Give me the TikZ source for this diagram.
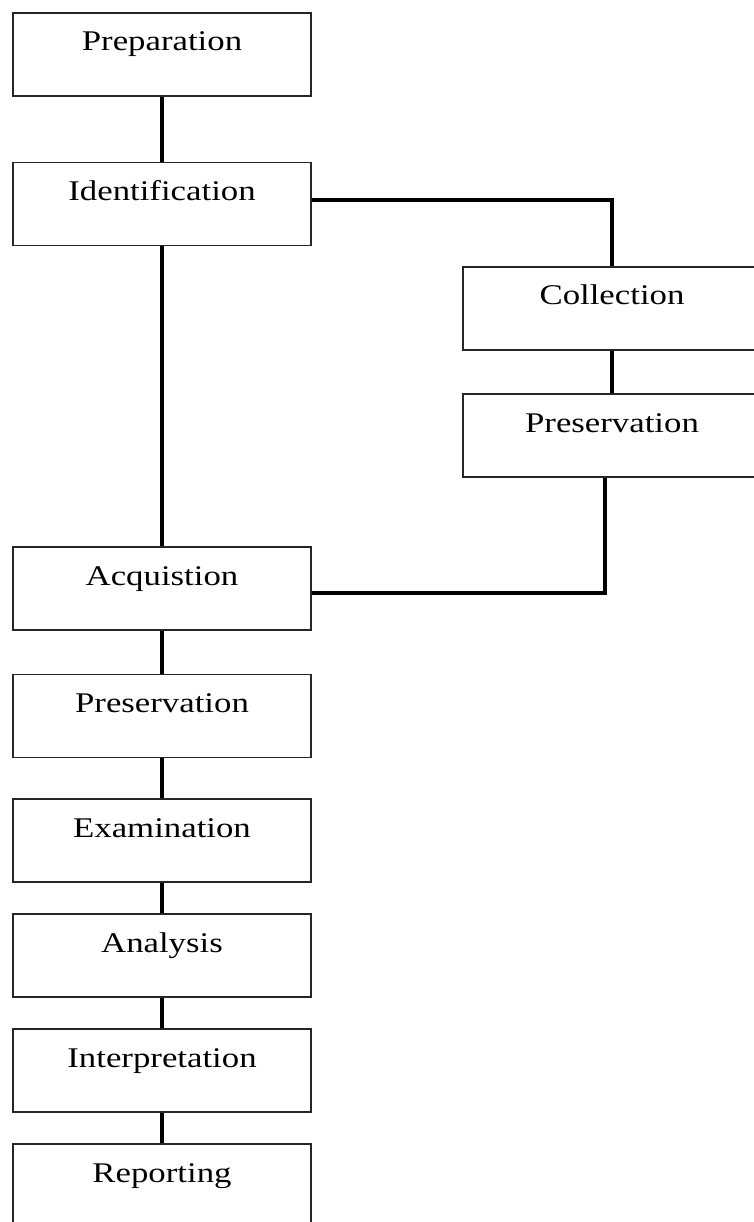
\documentclass[tikz,border=0pt]{standalone}
\usepackage{fontspec}
\setmainfont{Liberation Serif}[FakeStretch=1.22]
\begin{document}
\begin{tikzpicture}[x=1pt,y=-1pt,
  stagebox/.style={draw=black!85, line width=1.9pt, fill=white, minimum width=298pt,
    inner sep=0pt, text height=38pt, text depth=45pt,
    font=\fontsize{28.5pt}{32pt}\selectfont},
  link/.style={draw=black, line width=3.3pt}]
\useasboundingbox (0,0) rectangle (753,1222);
\node[stagebox] (prep)   at (162,54.5)  {Preparation};
\node[stagebox] (ident)  at (162,204)   {Identification};
\node[stagebox] (coll)   at (612,308.5) {Collection};
\node[stagebox] (presR)  at (612,435.5) {Preservation};
\node[stagebox] (acq)    at (162,588.5) {Acquistion};
\node[stagebox] (presL)  at (162,716)   {Preservation};
\node[stagebox] (exam)   at (162,840.5) {Examination};
\node[stagebox] (anal)   at (162,955.5) {Analysis};
\node[stagebox] (interp) at (162,1070.5){Interpretation};
\node[stagebox] (rep)    at (162,1185.5){Reporting};
\draw[link] (prep) -- (ident);
\draw[link] (ident) -- (acq);
\draw[link] ([yshift=4pt]ident.east) -| (coll.north);
\draw[link] (coll) -- (presR);
\draw[link] ([xshift=-7pt]presR.south) |- ([yshift=-4.5pt]acq.east);
\draw[link] (acq) -- (presL);
\draw[link] (presL) -- (exam);
\draw[link] (exam) -- (anal);
\draw[link] (anal) -- (interp);
\draw[link] (interp) -- (rep);
\end{tikzpicture}
\end{document}
